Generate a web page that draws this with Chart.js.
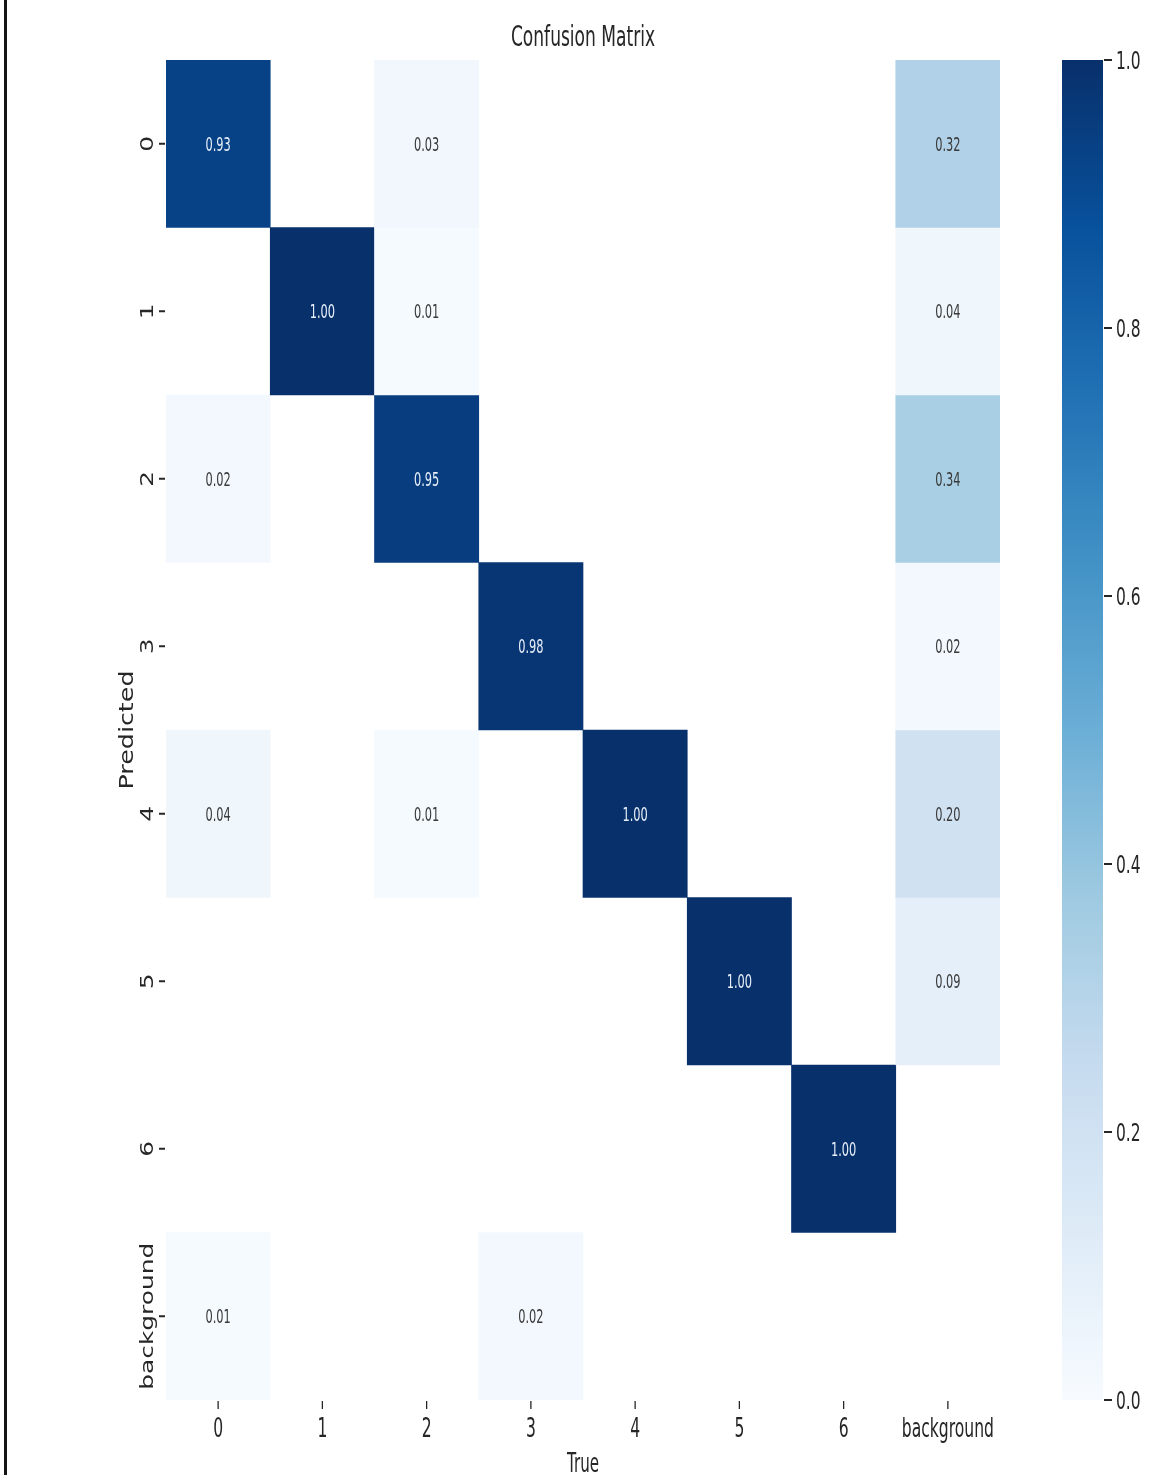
<!DOCTYPE html>
<html>
<head>
<meta charset="utf-8">
<script src="https://cdn.jsdelivr.net/npm/chart.js@4/dist/chart.umd.min.js"></script>
<style>
  html, body { margin: 0; padding: 0; background: #ffffff; }
  #wrap { position: relative; width: 1151px; height: 1475px; }
  #wrap canvas { position: absolute; left: 0; top: 0; }
</style>
</head>
<body>
<div id="wrap">
  <canvas id="matrix" width="1151" height="1475"></canvas>
  <canvas id="colorbar" width="1151" height="1475"></canvas>
</div>
<script>
// ---- data: rows are predicted classes, columns are true classes (null = empty cell)
const trueClasses = ['0', '1', '2', '3', '4', '5', '6', 'background'];
const predictedClasses = ['0', '1', '2', '3', '4', '5', '6', 'background'];

const pred0 = [0.93, null, 0.03, null, null, null, null, 0.32];
const pred1 = [null, 1.00, 0.01, null, null, null, null, 0.04];
const pred2 = [0.02, null, 0.95, null, null, null, null, 0.34];
const pred3 = [null, null, null, 0.98, null, null, null, 0.02];
const pred4 = [0.04, null, 0.01, null, 1.00, null, null, 0.20];
const pred5 = [null, null, null, null, null, 1.00, null, 0.09];
const pred6 = [null, null, null, null, null, null, 1.00, null];
const predBackground = [0.01, null, null, 0.02, null, null, null, null];

const matrixRows = [pred0, pred1, pred2, pred3, pred4, pred5, pred6, predBackground];
const colorbarTicks = [0.0, 0.2, 0.4, 0.6, 0.8, 1.0];

// ---- "Blues" colour map
const BLUES = ['#f7fbff', '#deebf7', '#c6dbef', '#9ecae1', '#6baed6', '#4292c6', '#2171b5', '#08519c', '#08306b'];
function hexToRgb(h) {
  return [parseInt(h.slice(1, 3), 16), parseInt(h.slice(3, 5), 16), parseInt(h.slice(5, 7), 16)];
}
const BLUES_RGB = BLUES.map(hexToRgb);
function blues(v) {
  const t = Math.max(0, Math.min(1, v)) * (BLUES_RGB.length - 1);
  const i = Math.min(Math.floor(t), BLUES_RGB.length - 2);
  const f = t - i;
  const a = BLUES_RGB[i], b = BLUES_RGB[i + 1];
  const c = a.map((x, k) => Math.round(x + (b[k] - x) * f));
  return `rgb(${c[0]},${c[1]},${c[2]})`;
}
function luminance(v) {
  const t = Math.max(0, Math.min(1, v)) * (BLUES_RGB.length - 1);
  const i = Math.min(Math.floor(t), BLUES_RGB.length - 2);
  const f = t - i;
  const a = BLUES_RGB[i], b = BLUES_RGB[i + 1];
  const c = a.map((x, k) => (x + (b[k] - x) * f) / 255).map(u => u <= 0.03928 ? u / 12.92 : Math.pow((u + 0.055) / 1.055, 2.4));
  return 0.2126 * c[0] + 0.7152 * c[1] + 0.0722 * c[2];
}

// ---- text helpers (narrow horizontal text, tall rotated text)
const FONT = '"DejaVu Sans", "Noto Sans", sans-serif';
const INK = '#262626';
function narrowText(ctx, text, x, y, size, color, align, sx) {
  ctx.save();
  ctx.translate(x, y);
  ctx.scale(sx || 0.6, 1);
  ctx.font = `${size}px ${FONT}`;
  ctx.fillStyle = color;
  ctx.textAlign = align || 'center';
  ctx.textBaseline = 'alphabetic';
  ctx.fillText(text, 0, 0);
  ctx.restore();
}
function risingText(ctx, text, x, y, size, color, stretch) {
  // baseline sits at x, text reads bottom-to-top centred on y
  ctx.save();
  ctx.translate(x, y);
  ctx.rotate(-Math.PI / 2);
  ctx.scale(stretch || 1.38, 1);
  ctx.font = `${size}px ${FONT}`;
  ctx.fillStyle = color;
  ctx.textAlign = 'center';
  ctx.textBaseline = 'alphabetic';
  ctx.fillText(text, 0, 0);
  ctx.restore();
}

// ---- annotations, ticks and titles of the matrix
const matrixDecor = {
  id: 'matrixDecor',
  afterDatasetsDraw(chart) {
    const ctx = chart.ctx;
    const xs = chart.scales.x, ys = chart.scales.y;
    const area = chart.chartArea;

    // cell values
    matrixRows.forEach((row, r) => {
      row.forEach((v, c) => {
        if (v === null) return;
        const cx = xs.getPixelForValue(c);
        const cy = ys.getPixelForValue(r + 0.5);
        const col = luminance(v) < 0.408 ? '#e6eef8' : '#3a3a3a';
        narrowText(ctx, v.toFixed(2), cx, cy + 7, 19, col, 'center', 0.6);
      });
    });

    // x ticks
    ctx.save();
    ctx.strokeStyle = INK;
    ctx.lineWidth = 1.3;
    trueClasses.forEach((lab, c) => {
      const cx = xs.getPixelForValue(c);
      ctx.beginPath();
      ctx.moveTo(cx, area.bottom + 1);
      ctx.lineTo(cx, area.bottom + 9);
      ctx.stroke();
      narrowText(ctx, lab, cx, area.bottom + 37, 26, INK, 'center', 0.6);
    });
    // y ticks
    ctx.lineWidth = 2;
    predictedClasses.forEach((lab, r) => {
      const cy = ys.getPixelForValue(r + 0.5);
      ctx.beginPath();
      ctx.moveTo(area.left - 7, cy);
      ctx.lineTo(area.left - 1, cy);
      ctx.stroke();
      risingText(ctx, lab, area.left - 13, cy, 18, INK, 1.38);
    });
    ctx.restore();

    // titles
    const midX = (area.left + area.right) / 2;
    narrowText(ctx, 'Confusion Matrix', midX, 46, 28, INK, 'center', 0.61);
    narrowText(ctx, 'True', midX, 1472, 26, INK, 'center', 0.58);
    risingText(ctx, 'Predicted', 133, (area.top + area.bottom) / 2, 19.5, INK, 1.3);

    // left page rule
    ctx.save();
    ctx.fillStyle = '#151515';
    ctx.fillRect(4, 0, 3, chart.height);
    ctx.restore();
  }
};

new Chart(document.getElementById('matrix'), {
  type: 'bar',
  data: {
    labels: trueClasses,
    datasets: matrixRows.map((row, r) => ({
      label: predictedClasses[r],
      data: row.map(v => (v === null ? null : [r, r + 1])),
      backgroundColor: row.map(v => (v === null ? 'rgba(0,0,0,0)' : blues(v))),
      borderWidth: 0,
      barPercentage: 1,
      categoryPercentage: 1
    }))
  },
  options: {
    responsive: false,
    animation: false,
    devicePixelRatio: 1,
    layout: { padding: { left: 166, right: 151, top: 60, bottom: 75 } },
    plugins: { legend: { display: false }, tooltip: { enabled: false }, title: { display: false } },
    datasets: { bar: { grouped: false } },
    scales: {
      x: { type: 'category', display: false, offset: true },
      y: { type: 'linear', display: false, min: 0, max: 8, reverse: true }
    }
  },
  plugins: [matrixDecor]
});

// ---- colour bar
const colorbarDecor = {
  id: 'colorbarDecor',
  afterDatasetsDraw(chart) {
    const ctx = chart.ctx;
    const ys = chart.scales.y;
    const area = chart.chartArea;
    ctx.save();
    ctx.strokeStyle = INK;
    ctx.lineWidth = 2;
    colorbarTicks.forEach(v => {
      const y = ys.getPixelForValue(v);
      ctx.beginPath();
      ctx.moveTo(area.right + 1, y);
      ctx.lineTo(area.right + 9, y);
      ctx.stroke();
      narrowText(ctx, v.toFixed(1), area.right + 13, y + 9, 25, INK, 'left', 0.62);
    });
    ctx.restore();
  }
};

new Chart(document.getElementById('colorbar'), {
  type: 'bar',
  data: {
    labels: ['scale'],
    datasets: [{
      data: [[0, 1]],
      backgroundColor(context) {
        const area = context.chart.chartArea;
        if (!area) return BLUES[4];
        const g = context.chart.ctx.createLinearGradient(0, area.bottom, 0, area.top);
        BLUES.forEach((c, i) => g.addColorStop(i / (BLUES.length - 1), c));
        return g;
      },
      borderWidth: 0,
      barPercentage: 1,
      categoryPercentage: 1
    }]
  },
  options: {
    responsive: false,
    animation: false,
    devicePixelRatio: 1,
    layout: { padding: { left: 1062, right: 48, top: 60, bottom: 75 } },
    plugins: { legend: { display: false }, tooltip: { enabled: false } },
    scales: {
      x: { type: 'category', display: false, offset: true },
      y: { type: 'linear', display: false, min: 0, max: 1 }
    }
  },
  plugins: [colorbarDecor]
});
</script>
</body>
</html>
